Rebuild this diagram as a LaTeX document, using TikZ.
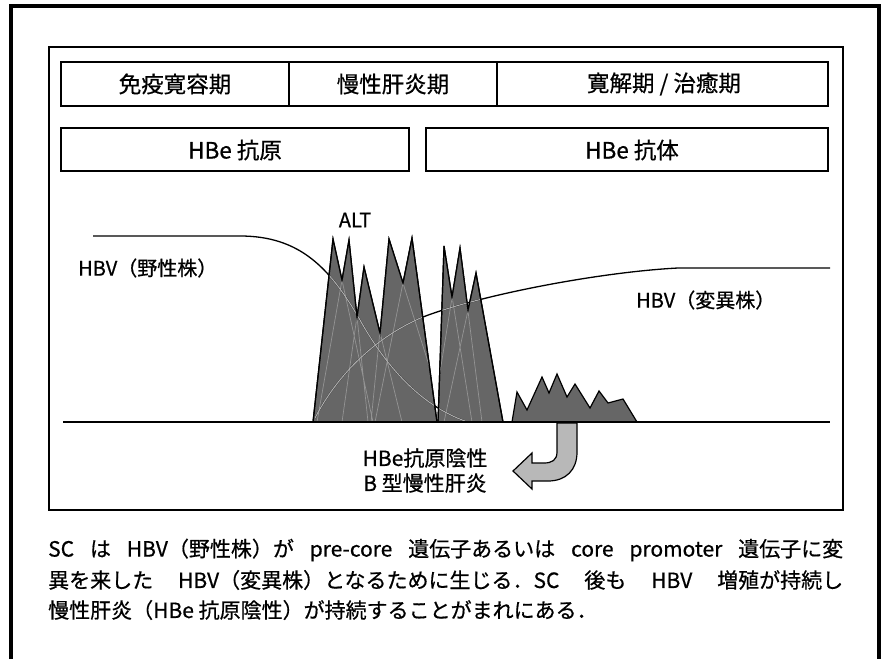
\documentclass[tikz,border=0pt]{standalone}
\usepackage{fontspec}
\setmainfont{Noto Sans CJK JP}[FakeBold=0.6]
\newcommand\fsz[1]{\fontsize{#1}{#1}\selectfont}
\begin{document}
\begin{tikzpicture}[x=1pt,y=-1pt,
  frame/.style={draw=black,line width=1.4pt},
  lbl/.style={inner sep=0pt,font=\fsz{22.5}},
  curve/.style={draw=black,line width=1.3pt},
  peaks/.style={fill=black!60,draw=black,line width=1.2pt,line join=miter},
  inner/.style={draw=black!42,line width=0.7pt},
  body/.style={inner sep=0pt,anchor=west,font=\fsz{21}}]
\useasboundingbox (0,0) rectangle (885,659);
\fill[white] (0,0) rectangle (885,659);
% outer frame
\draw[line width=3.2pt] (11,659) -- (11,6) -- (879,6) -- (879,659);
% inner frame
\draw[frame] (49,47) rectangle (843,510);
% phase boxes
\draw[frame] (61,62) rectangle (828,106);
\draw[frame] (289,62) -- (289,106);
\draw[frame] (497,62) -- (497,106);
\node[lbl] (p1) at (175,84) {免疫寛容期};
\node[lbl] (p2) at (393,84) {慢性肝炎期};
\node[lbl] (p3) at (664,84) {寛解期 / 治癒期};
% HBe boxes
\draw[frame] (61,128) rectangle (409,171);
\draw[frame] (426,128) rectangle (828,171);
\node[lbl] (e1) at (235,150) {HBe 抗原};
\node[lbl] (e2) at (632,150) {HBe 抗体};
% ALT peaks
\def\gA{(313,422) -- (333,239) -- (342,280) -- (349,240) -- (357,317) -- (364,267)
  -- (380,333) -- (389,239) -- (403,283) -- (412,238) -- (437,422) -- cycle}
\def\gB{(438,422) -- (444,246) -- (452,297) -- (460,248) -- (468,310) -- (476,273)
  -- (503,422) -- cycle}
\path[peaks] \gA;
\path[peaks] \gB;
\path[peaks] (512,422) -- (517,392) -- (527,410) -- (542,377) -- (549,393) -- (557,374)
  -- (567,397) -- (575,384) -- (590,408) -- (599,391) -- (608,403) -- (623,399)
  -- (637,422) -- cycle;
% HBV curves
\def\wild{(93,236) -- (240,236) .. controls (300,236) and (330,268) .. (360,320)
  .. controls (385,365) and (420,405) .. (465,421)}
\def\mutant{(315,418) .. controls (340,370) and (380,335) .. (423,317)
  .. controls (480,295) and (600,272) .. (678,268) -- (830,268)}
\draw[curve] \wild;
\draw[curve] \mutant;
% hidden triangle edges and curves seen through the peaks
\begin{scope}
  \clip \gA;
  \draw[inner] (333,239) -- (373,422) (349,240) -- (317,422)
               (349,240) -- (368,422) (364,267) -- (342,422)
               (364,267) -- (402,422) (389,239) -- (371,422)
               (389,239) -- (447,422) (412,238) -- (375,422);
  \draw[draw=black!32,line width=1.1pt] \wild;
  \draw[draw=black!32,line width=1.1pt] \mutant;
\end{scope}
\begin{scope}
  \clip \gB;
  \draw[inner] (444,246) -- (472,422) (460,248) -- (432,422)
               (460,248) -- (482,422) (476,273) -- (444,422);
  \draw[draw=black!32,line width=1.1pt] \wild;
  \draw[draw=black!32,line width=1.1pt] \mutant;
\end{scope}
\path[draw=black,line width=1.2pt,line join=miter] \gA;
\path[draw=black,line width=1.2pt,line join=miter] \gB;
% baseline
\draw[line width=1.6pt] (63,422) -- (830,422);
% arrow
\path[fill=black!28,draw=black,line width=1.2pt,line join=miter]
  (557,423) -- (557,452) .. controls (557,460) and (552,463) .. (544,463) -- (532,463)
  -- (532,453) -- (513,471) -- (532,489) -- (532,481) -- (548,481)
  .. controls (566,481) and (577,470) .. (577,452) -- (577,423) -- cycle;
% labels
\node[lbl,font=\fsz{20}] (alt) at (355,220) {ALT};
\node[lbl,font=\fsz{20},anchor=west] (wild) at (78,268) {HBV（野性株）};
\node[lbl,font=\fsz{20},anchor=west] (mut) at (636,300) {HBV（変異株）};
\node[lbl,font=\fsz{21}] (neg1) at (425,458) {HBe抗原陰性};
\node[lbl,font=\fsz{21}] (neg2) at (425,483) {B 型慢性肝炎};
% caption
\node[body] (c1) at (48,550) {\makebox[795pt][s]{SC は HBV（野性株）が pre-core 遺伝子あるいは core promoter 遺伝子に変}};
\node[body] (c2) at (48,580) {\makebox[795pt][s]{異を来した HBV（変異株）となるために生じる．SC 後も HBV 増殖が持続し}};
\node[body] (c3) at (48,610) {慢性肝炎（HBe 抗原陰性）が持続することがまれにある．};
\end{tikzpicture}
\end{document}
